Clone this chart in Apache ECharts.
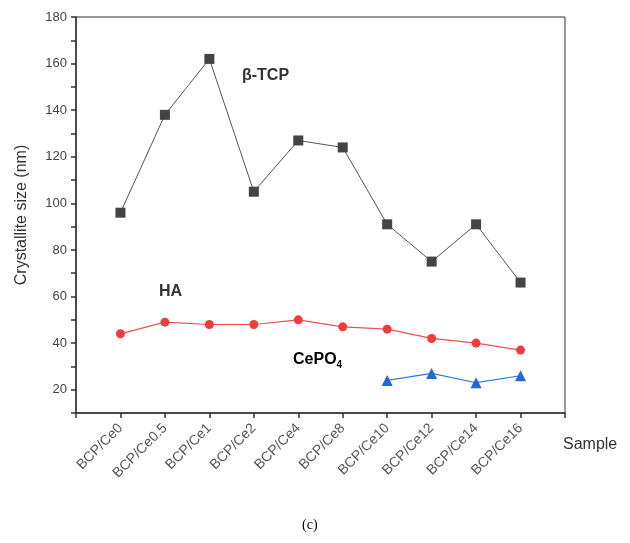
<!DOCTYPE html>
<html>
<head>
<meta charset="utf-8">
<script src="https://cdn.jsdelivr.net/npm/echarts@6/dist/echarts.min.js"></script>
<style>
  html, body { margin: 0; padding: 0; background: #fff; }
  #main { width: 630px; height: 543px; }
</style>
</head>
<body>
<div id="main"></div>
<script>
// sample names, placed at x = 1..10
var samples = ['BCP/Ce0', 'BCP/Ce0.5', 'BCP/Ce1', 'BCP/Ce2', 'BCP/Ce4',
  'BCP/Ce8', 'BCP/Ce10', 'BCP/Ce12', 'BCP/Ce14', 'BCP/Ce16'];
var tcpValues = [96, 138, 162, 105, 127, 124, 91, 75, 91, 66];
var haValues = [44, 49, 48, 48, 50, 47, 46, 42, 40, 37];
// CePO4 only measured from BCP/Ce10 on
var cepo4Values = [null, null, null, null, null, null, 24, 27, 23, 26];

function toPoints(values) {
  var pts = [];
  for (var i = 0; i < values.length; i++) {
    if (values[i] != null) pts.push([i + 1, values[i]]);
  }
  return pts;
}

var chart = echarts.init(document.getElementById('main'));
var font = 'Liberation Sans, Arial, sans-serif';

var option = {
  animation: false,
  backgroundColor: '#fff',
  grid: {
    left: 76, right: 65, top: 17, bottom: 130,
    show: true, borderColor: '#333', borderWidth: 1
  },
  xAxis: {
    type: 'value',
    min: 0, max: 11, interval: 1,
    name: 'Sample',
    nameLocation: 'end',
    nameGap: -2,
    nameTextStyle: { fontFamily: font, fontSize: 16, color: '#333', verticalAlign: 'top', padding: [24, 0, 0, 0] },
    axisLine: { lineStyle: { color: '#333', width: 1.5 } },
    axisTick: { inside: false, length: 5, lineStyle: { color: '#333', width: 1.5 } },
    splitLine: { show: false },
    axisLabel: {
      rotate: 45,
      fontFamily: font, fontSize: 14, color: '#555',
      margin: 13,
      showMinLabel: true, showMaxLabel: true,
      formatter: function (v) {
        return (v >= 1 && v <= samples.length) ? samples[v - 1] : '';
      }
    }
  },
  yAxis: {
    type: 'value',
    min: 10, max: 180, interval: 10,
    name: 'Crystallite size (nm)',
    nameLocation: 'middle',
    nameGap: 46,
    nameTextStyle: { fontFamily: font, fontSize: 16, color: '#333' },
    axisLine: { show: true, lineStyle: { color: '#333', width: 1.5 } },
    axisTick: { length: 5, lineStyle: { color: '#333', width: 1.5 } },
    splitLine: { show: false },
    axisLabel: {
      fontFamily: font, fontSize: 13, color: '#444', margin: 9,
      formatter: function (v) { return v % 20 === 0 ? v : ''; }
    }
  },
  series: [
    {
      name: 'β-TCP', type: 'line',
      data: toPoints(tcpValues),
      symbol: 'rect', symbolSize: 10,
      itemStyle: { color: '#444' },
      lineStyle: { color: '#555', width: 1 }
    },
    {
      name: 'HA', type: 'line',
      data: toPoints(haValues),
      symbol: 'circle', symbolSize: 9,
      itemStyle: { color: '#ef3c3c' },
      lineStyle: { color: '#f05050', width: 1.2 }
    },
    {
      name: 'CePO4', type: 'line',
      data: toPoints(cepo4Values),
      symbol: 'triangle', symbolSize: 11,
      itemStyle: { color: '#2168d8' },
      lineStyle: { color: '#3377e0', width: 1.2 }
    }
  ],
  graphic: [
    { type: 'text', left: 242, top: 68,
      style: { text: 'β-TCP', font: 'bold 16px ' + font, fill: '#333' } },
    { type: 'text', left: 159, top: 284,
      style: { text: 'HA', font: 'bold 16px ' + font, fill: '#333' } },
    { type: 'text', left: 293, top: 352,
      style: {
        text: '{a|CePO}{b|4}',
        rich: {
          a: { font: 'bold 16px ' + font, color: '#333' },
          b: { font: 'bold 10px ' + font, color: '#333', padding: [10, 0, 0, 0] }
        }
      } },
    { type: 'text', left: 302, top: 518,
      style: { text: '(c)', font: '14px Liberation Serif, Times New Roman, serif', fill: '#000' } }
  ]
};

chart.setOption(option);
</script>
</body>
</html>
